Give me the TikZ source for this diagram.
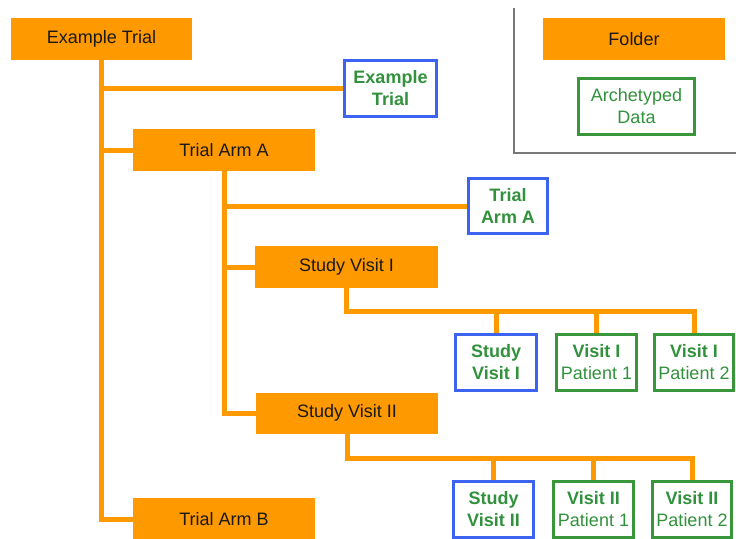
\documentclass[tikz,border=0pt]{standalone}
\usepackage{fontspec}
\setmainfont{Liberation Sans}
\definecolor{orng}{RGB}{255,153,0}
\definecolor{blu}{RGB}{60,100,240}
\definecolor{grn}{RGB}{58,150,58}
\definecolor{grntext}{RGB}{50,145,60}
\definecolor{legendgray}{RGB}{120,120,120}
\tikzset{
  folderbox/.style={rectangle, fill=orng, draw=none, inner sep=0pt, minimum width=182pt, minimum height=42pt, font=\fontsize{18}{22}\selectfont, text=black!90},
  protobox/.style={rectangle, draw=blu, line width=3pt, fill=white, inner sep=0pt, minimum height=56pt, align=center, font=\fontsize{18}{22}\selectfont\bfseries, text=grntext},
  databox/.style={rectangle, draw=grn, line width=3pt, fill=white, inner sep=0pt, minimum height=56pt, align=center, font=\fontsize{18}{22}\selectfont, text=grntext},
  link/.style={draw=orng, line width=5pt, line join=miter},
  legendline/.style={draw=legendgray, line width=1.5pt}
}
\begin{document}
\begin{tikzpicture}[x=1pt,y=-1pt]
\useasboundingbox (0,0) rectangle (736,538);
\clip (0,0) rectangle (736,538);
% legend
\draw[legendline] (514,8) -- (514,153) -- (737,153);
\node[folderbox] (folder) at (634,39) {Folder};
\node[databox, minimum width=116pt] (ad) at (636.5,106.5) {Archetyped\\Data};
% folders
\node[folderbox, minimum width=181pt] (et) at (101.5,39) {Example Trial};
\node[folderbox] (taa) at (224,150) {Trial Arm A};
\node[folderbox, minimum width=183pt] (sv1) at (346.5,267) {Study Visit I};
\node[folderbox, minimum height=41pt] (sv2) at (347,413) {Study Visit II};
\node[folderbox] (tab) at (224,519) {Trial Arm B};
% archetype boxes
\node[protobox, minimum width=92pt] (etb) at (390.5,88.5) {Example\\Trial};
\node[protobox, minimum width=79pt, minimum height=55pt] (taab) at (508,206) {Trial\\Arm A};
\node[protobox, minimum width=81pt] (sv1b) at (496,362.5) {Study\\Visit I};
\node[databox, minimum width=80pt] (v1p1) at (596.5,362.5) {\textbf{Visit I}\\Patient 1};
\node[databox, minimum width=79pt] (v1p2) at (694,362.5) {\textbf{Visit I}\\Patient 2};
\node[protobox, minimum width=80pt] (sv2b) at (493.5,509.5) {Study\\Visit II};
\node[databox, minimum width=80pt] (v2p1) at (593.5,509.5) {\textbf{Visit II}\\Patient 1};
\node[databox, minimum width=79pt] (v2p2) at (692,509.5) {\textbf{Visit II}\\Patient 2};
% connectors
\coordinate (h1) at (0,311);
\coordinate (h2) at (0,458);
\draw[link] (et.south) |- (tab.west);
\draw[link] (et.south |- etb.west) -- (etb.west);
\draw[link] (et.south |- taa.west) -- (taa.west);
\draw[link] (taa.south) |- (sv2.west);
\draw[link] (taa.south |- taab.west) -- (taab.west);
\draw[link] (taa.south |- sv1.west) -- (sv1.west);
\draw[link] (sv1.south) |- (v1p2.north |- h1) -- (v1p2.north);
\draw[link] (sv1b.north |- h1) -- (sv1b.north);
\draw[link] (v1p1.north |- h1) -- (v1p1.north);
\draw[link] (sv2.south) |- (v2p2.north |- h2) -- (v2p2.north);
\draw[link] (sv2b.north |- h2) -- (sv2b.north);
\draw[link] (v2p1.north |- h2) -- (v2p1.north);
\end{tikzpicture}
\end{document}
